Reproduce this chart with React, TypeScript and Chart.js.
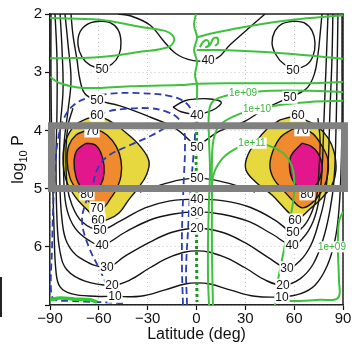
import React, { useEffect, useRef } from 'react';
import { Chart, registerables } from 'chart.js';

Chart.register(...registerables);

type Pt = [number, number];
type Lbl = [string, number, number];

// ---------- axes ----------
const latRange: Pt = [-90, 90];
const logPRange: Pt = [2, 7];
const latStep = 30;
const logPStep = 1;
const xTitle = 'Latitude (deg)';
const yTitleMain = 'log';
const yTitleSub = '10';
const yTitleEnd = ' P';

// ---------- highlighted band (grey box) ----------
const barLat: Pt = [-89.1, 90.9];
const barLogP: Pt = [3.92, 5.0];

// ---------- filled jet cores (60 / 70 / 80 contours) ----------
const yellowL: Pt[] = [[-66.6,3.79],[-59.3,3.77],[-51.9,3.86],[-43.3,4.04],[-34.7,4.27],[-29.2,4.53],[-31.0,4.78],[-35.9,4.99],[-42.1,5.21],[-47.6,5.42],[-53.7,5.52],[-60.5,5.56],[-66.6,5.38],[-74.0,5.16],[-80.2,4.85],[-82.0,4.47],[-80.2,4.16],[-74.6,3.91]];
const orangeL: Pt[] = [[-68.5,4.01],[-61.1,3.99],[-55.0,4.08],[-49.4,4.27],[-46.4,4.51],[-46.4,4.78],[-49.4,5.02],[-53.1,5.18],[-56.8,5.32],[-61.1,5.35],[-66.6,5.21],[-73.4,5.02],[-77.7,4.82],[-79.5,4.51],[-78.3,4.25],[-74.0,4.08]];
const magentaL: Pt[] = [[-67.9,4.22],[-62.3,4.25],[-58.7,4.39],[-56.8,4.61],[-57.4,4.84],[-60.5,4.99],[-65.4,5.04],[-70.9,4.97],[-74.0,4.80],[-75.2,4.54],[-73.4,4.34]];
const yellowR: Pt[] = [[51.3,3.82],[58.7,3.77],[66.6,3.82],[74.6,3.94],[80.8,4.13],[84.5,4.37],[85.7,4.68],[83.2,4.94],[77.1,5.16],[69.7,5.35],[61.7,5.52],[56.2,5.40],[46.4,5.11],[36.5,4.89],[30.4,4.68],[31.0,4.46],[36.5,4.20],[43.9,3.96]];
const orangeR: Pt[] = [[58.7,3.98],[64.8,3.96],[71.6,4.06],[77.1,4.27],[80.8,4.51],[80.2,4.82],[76.5,5.06],[70.9,5.25],[64.8,5.33],[59.3,5.21],[53.1,5.02],[47.6,4.84],[45.1,4.61],[47.0,4.35],[51.9,4.11]];
const magentaR: Pt[] = [[64.8,4.22],[70.3,4.27],[74.6,4.39],[77.1,4.59],[75.9,4.82],[71.6,4.99],[66.0,5.04],[60.5,4.92],[57.4,4.70],[58.0,4.44]];

// ---------- black contours ----------
const loop50L: Pt[] = [[-59.9,2.12],[-53.1,2.15],[-48.2,2.27],[-46.4,2.48],[-47.6,2.70],[-51.9,2.86],[-58.7,2.93],[-65.4,2.88],[-70.3,2.74],[-72.8,2.53],[-71.6,2.31],[-66.6,2.17],[-59.9,2.12]];
const loop50R: Pt[] = [[59.3,2.12],[66.0,2.15],[71.0,2.29],[72.8,2.50],[71.6,2.72],[67.3,2.88],[60.5,2.93],[53.7,2.86],[48.8,2.70],[46.4,2.50],[48.2,2.29],[52.5,2.17],[59.3,2.12]];
const top40: Pt[] = [[-48.2,2.0],[-40.8,2.03],[-28.6,2.19],[-20.6,2.45],[-13.2,2.67],[-5.2,2.78],[2.1,2.81],[12.6,2.76],[20.6,2.53],[31.0,2.27],[42.1,2.0]];
const lens40: Pt[] = [[-14.4,3.60],[-7.1,3.49],[0.3,3.46],[8.3,3.46],[15.1,3.51],[12.0,3.62],[5.2,3.70],[-2.1,3.72],[-9.5,3.68],[-14.4,3.60]];
const upper50: Pt[] = [[-77.1,2.0],[-75.9,2.36],[-73.4,2.79],[-71.6,3.13],[-68.5,3.37],[-61.1,3.48],[-47.0,3.58],[-28.6,3.77],[-13.2,3.96],[-4.0,4.18],[0.3,4.29],[5.2,4.18],[14.4,4.01],[28.6,3.86],[42.1,3.63],[57.4,3.43],[67.3,3.29],[72.2,3.05],[74.6,2.70],[75.9,2.36],[77.1,2.0]];
const mid50: Pt[] = [[-34.7,5.06],[-22.4,4.94],[-10.1,4.85],[0.3,4.82],[10.7,4.85],[23.6,4.94],[35.9,5.06]];
const lower50: Pt[] = [[-75.9,3.62],[-78.9,3.91],[-80.2,4.34],[-79.5,4.94],[-76.5,5.28],[-70.3,5.57],[-59.3,5.71],[-47.0,5.56],[-31.6,5.33],[-16.2,5.21],[0.3,5.18],[16.9,5.21],[32.9,5.32],[48.2,5.54],[59.3,5.75],[66.0,5.64],[70.9,5.40],[74.0,5.11],[75.2,4.68],[75.9,4.16],[74.6,3.79]];
const wall40: Pt[] = [[-80.8,2.0],[-78.9,2.53],[-77.1,3.13],[-78.9,3.65],[-81.4,4.25],[-81.4,4.94],[-79.5,5.37],[-74.6,5.68],[-66.6,5.88],[-58.0,5.97],[-43.9,5.75],[-28.6,5.54],[-15.0,5.44],[0.3,5.40],[15.7,5.44],[31.6,5.56],[46.4,5.78],[58.7,5.97],[65.4,5.85],[71.6,5.57],[75.2,5.20],[77.1,4.68],[78.3,3.82],[79.5,2.96],[80.8,2.0]];
const wall30: Pt[] = [[-83.8,2.0],[-82.6,2.62],[-82.0,3.31],[-83.8,3.99],[-84.0,4.85],[-82.6,5.54],[-79.5,5.93],[-71.6,6.19],[-55.0,6.35],[-43.9,6.16],[-28.6,5.92],[-15.0,5.75],[0.3,5.68],[15.7,5.75],[29.8,5.93],[43.9,6.18],[55.6,6.36],[63.6,6.24],[70.3,5.97],[75.2,5.57],[78.9,5.14],[80.8,4.59],[82.0,3.65],[83.2,2.79],[83.8,2.0]];
const wall20: Pt[] = [[-86.9,2.0],[-85.7,2.79],[-85.7,3.65],[-86.3,4.51],[-85.7,5.54],[-83.8,6.09],[-79.5,6.40],[-68.5,6.59],[-51.9,6.66],[-40.8,6.57],[-28.6,6.36],[-15.0,6.16],[0.3,6.07],[15.7,6.16],[29.8,6.36],[42.1,6.57],[53.1,6.66],[63.6,6.55],[71.6,6.30],[77.7,5.88],[82.0,5.37],[84.5,4.85],[85.7,3.99],[86.3,3.13],[86.9,2.0]];
const wall10: Pt[] = [[-89.4,2.0],[-89.4,3.13],[-88.8,4.34],[-87.5,5.71],[-86.3,6.43],[-83.8,6.69],[-76.5,6.81],[-62.3,6.85],[-50.1,6.85],[-34.7,6.85],[-19.3,6.74],[-7.1,6.64],[0.3,6.62],[8.3,6.64],[20.6,6.74],[35.9,6.85],[52.5,6.86],[63.6,6.81],[72.8,6.66],[80.2,6.33],[85.1,5.88],[87.5,5.37],[88.8,4.68],[89.4,3.82],[89.4,2.79],[89.4,2.0]];

// ---------- blue dashed contours ----------
const blueOuter: Pt[] = [[-5.8,7.0],[-6.4,6.40],[-5.2,5.71],[-4.0,5.11],[-2.1,4.51],[-0.9,3.99],[-2.1,3.74],[-6.4,3.53],[-16.2,3.41],[-34.7,3.36],[-53.1,3.37],[-66.6,3.44],[-75.2,3.56],[-81.4,3.79],[-85.1,4.16],[-86.9,4.68],[-88.1,5.37],[-88.8,6.06],[-89.4,6.74],[-87.5,6.90],[-77.7,6.93],[-59.3,6.95],[-42.7,6.97]];
const blueMid: Pt[] = [[-8.3,7.0],[-8.9,6.40],[-8.9,5.71],[-8.3,5.20],[-7.7,4.77],[-7.1,4.34],[-7.7,3.99],[-11.4,3.79],[-19.3,3.67],[-28.6,3.62],[-43.9,3.63],[-55.0,3.68],[-63.0,3.79],[-67.9,3.92]];
const blueJet: Pt[] = [[-19.3,3.96],[-28.6,4.10],[-42.1,4.27],[-54.4,4.44],[-61.1,4.68],[-64.2,4.99],[-68.5,5.28],[-70.3,5.57],[-66.6,5.97],[-59.3,6.40],[-51.3,6.86],[-47.0,6.98]];

// ---------- green contours ----------
const greenTongue: Pt[] = [[-90,2.07],[-59.3,2.10],[-34.7,2.22],[-19.3,2.29],[-15.0,2.36],[-13.8,2.46],[-17.5,2.57],[-34.7,2.65],[-59.3,2.74],[-83.8,2.76],[-90,2.76]];
const greenEq: Pt[] = [[-0.3,2.0],[-1.5,2.19],[0.3,2.41],[-1.5,2.62],[0.3,2.82],[-0.9,3.05],[0.3,3.22],[0.3,3.48]];
const greenTopR: Pt[] = [[0.3,2.40],[8.3,2.34],[20.6,2.27],[45.1,2.15],[69.7,2.07],[90,2.02]];
const greenWiggle: Pt[] = [[2.1,2.57],[4.0,2.48],[6.4,2.45],[7.7,2.52],[5.8,2.57],[8.3,2.53],[10.1,2.43],[12.6,2.41],[13.2,2.50],[11.4,2.55]];
const greenMidR: Pt[] = [[0.3,2.62],[14.4,2.62],[39.0,2.65],[63.6,2.70],[90,2.77]];
const greenBand: Pt[] = [[-90,3.08],[-83.8,3.19],[-69.7,3.27],[-40.8,3.24],[-10.1,3.22],[0.3,3.20],[20.6,3.19],[45.1,3.19],[69.7,3.19],[90,3.17]];
const green1e9: Pt[] = [[90,3.34],[69.7,3.32],[45.1,3.32],[28.6,3.36],[17.5,3.41],[10.1,3.50],[7.7,3.68],[7.7,4.16],[8.3,4.68],[7.7,5.20],[7.1,5.88],[7.1,6.57],[7.7,7.0]];
const green1e10: Pt[] = [[90,3.49],[69.7,3.51],[54.4,3.55],[37.2,3.63],[23.6,3.75],[14.4,3.91],[10.7,4.13],[9.5,4.51],[9.5,5.20],[9.5,6.06],[10.1,7.0]];
const green1e11: Pt[] = [[9.5,5.20],[10.1,4.80],[15.1,4.51],[23.6,4.32],[34.1,4.22],[45.1,4.27],[54.4,4.42],[59.3,4.68],[59.9,5.08],[58.0,5.45],[53.7,6.06],[50.1,6.57],[48.2,7.0]];
const greenWallR: Pt[] = [[90,5.40],[87.5,5.57],[86.9,6.06],[87.5,6.57],[86.9,6.88],[75.9,6.91],[63.6,6.93],[55.0,6.93]];
const greenFloorL: Pt[] = [[-90,6.91],[-83.8,6.88],[-74.6,6.90],[-65.4,6.91],[-61.1,6.95]];
const greenDotted: Pt[] = [[0.3,3.82],[-0.3,4.5],[0.3,5.2],[0.0,6.0],[0.3,6.95]];

// ---------- contour labels ----------
const blackLabels: Lbl[] = [
  ['50',-58.0,2.95],['50',-61.1,3.48],['60',-61.1,3.74],['70',-64.2,4.01],['80',-67.3,5.09],
  ['70',-61.1,5.33],['60',-60.5,5.54],['50',-59.3,5.71],['40',-58.0,5.97],['30',-55.0,6.35],['20',-51.9,6.66],['10',-50.1,6.85],
  ['40',7.1,2.79],['40',0.3,3.74],['50',0.3,4.29],['50',0.3,4.82],['40',0.3,5.18],['30',0.3,5.40],['20',0.3,5.68],
  ['50',59.3,2.96],['50',57.4,3.43],['60',62.3,3.74],['70',64.8,3.99],['80',67.9,5.09],
  ['60',60.5,5.54],['50',59.3,5.75],['40',58.7,5.97],['30',55.6,6.36],['20',53.1,6.66],['10',52.5,6.86],
];
const greenLabels: Lbl[] = [
  ['1e+09',28.6,3.36],['1e+10',37.2,3.63],['1e+11',34.1,4.22],['1e+09',83.2,6.0],
];

const FONT = '"Liberation Sans", Arial, Helvetica, sans-serif';
const BLACK = '#141414';
const BLUE = '#2a3db4';
const GREEN = '#3ec23e';

const closed = (p: Pt[]) => p.concat([p[0]]);
const ds = (pts: Pt[], o: any) => ({
  data: pts.map(([x, y]) => ({ x, y })),
  showLine: true,
  pointRadius: 0,
  pointHoverRadius: 0,
  tension: 0.4,
  fill: false,
  borderWidth: 1.4,
  borderColor: BLACK,
  order: 5,
  ...o,
});

export default function App() {
  const ref = useRef<HTMLCanvasElement | null>(null);

  useEffect(() => {
    if (!ref.current) return;
    const fills = [
      ds(closed(yellowL), { fill: 'shape', backgroundColor: '#e6d83e', order: 12 }),
      ds(closed(orangeL), { fill: 'shape', backgroundColor: '#f08a2e', order: 11 }),
      ds(closed(magentaL), { fill: 'shape', backgroundColor: '#e3178c', order: 10 }),
      ds(closed(yellowR), { fill: 'shape', backgroundColor: '#e6d83e', order: 12 }),
      ds(closed(orangeR), { fill: 'shape', backgroundColor: '#f08a2e', order: 11 }),
      ds(closed(magentaR), { fill: 'shape', backgroundColor: '#e3178c', order: 10 }),
    ];
    const blacks = [loop50L, loop50R, top40, lens40, upper50, mid50, lower50, wall40, wall30, wall20, wall10]
      .map((p) => ds(p, { order: 6 }));
    const blues = [blueOuter, blueMid, blueJet].map((p) =>
      ds(p, { borderColor: BLUE, borderWidth: 1.8, borderDash: [7, 4], order: 4 }));
    const greens = [greenTongue, greenEq, greenTopR, greenWiggle, greenMidR, greenBand, green1e9, green1e10, green1e11, greenWallR]
      .map((p) => ds(p, { borderColor: GREEN, borderWidth: 2, order: 3 }));
    const extras = [
      ds(greenFloorL, { borderColor: '#35c835', borderWidth: 3.5, order: 3 }),
      ds(greenDotted, { borderColor: '#1e961e', borderWidth: 3, borderDash: [3, 3], tension: 0, order: 3 }),
    ];
    const barPts: Pt[] = [
      [barLat[0], barLogP[0]], [barLat[1], barLogP[0]], [barLat[1], barLogP[1]], [barLat[0], barLogP[1]], [barLat[0], barLogP[0]],
    ];
    const bar = ds(barPts, {
      borderColor: '#808080', borderWidth: 7, tension: 0, clip: false, order: 0,
      borderJoinStyle: 'miter', borderCapStyle: 'square',
    });
    const datasets = [...fills, ...blacks, ...blues, ...greens, ...extras, bar];
    const barIndex = datasets.length - 1;

    const drawLabel = (ctx: CanvasRenderingContext2D, chart: any, l: Lbl, color: string, size: number) => {
      const x = chart.scales.x.getPixelForValue(l[1]);
      const y = chart.scales.y.getPixelForValue(l[2]);
      ctx.font = `${size}px ${FONT}`;
      const w = ctx.measureText(l[0]).width;
      ctx.fillStyle = '#ffffff';
      ctx.fillRect(x - w / 2 - 1, y - size / 2 - 0.5, w + 2, size + 1);
      ctx.fillStyle = color;
      ctx.textAlign = 'center';
      ctx.textBaseline = 'middle';
      ctx.fillText(l[0], x, y + 0.5);
    };

    const labelPlugin = {
      id: 'contourLabels',
      beforeDatasetDraw(chart: any, args: any) {
        if (args.index !== barIndex) return;
        const ctx = chart.ctx;
        ctx.save();
        blackLabels.forEach((l) => drawLabel(ctx, chart, l, '#111', 12));
        greenLabels.forEach((l) => drawLabel(ctx, chart, l, '#3cb43c', 10));
        ctx.restore();
      },
    };

    const framePlugin = {
      id: 'frame',
      beforeDatasetsDraw(chart: any) {
        const { ctx, chartArea: a } = chart;
        ctx.save();
        ctx.strokeStyle = '#222';
        ctx.lineWidth = 1.5;
        ctx.beginPath();
        ctx.moveTo(a.left, a.top);
        ctx.lineTo(a.right, a.top);
        ctx.lineTo(a.right, a.bottom);
        ctx.stroke();
        ctx.restore();
      },
      afterDraw(chart: any) {
        const { ctx, chartArea: a } = chart;
        ctx.save();
        ctx.fillStyle = '#111';
        ctx.font = `16px ${FONT}`;
        ctx.textAlign = 'center';
        ctx.textBaseline = 'alphabetic';
        ctx.fillText(xTitle, (a.left + a.right) / 2, 339);
        ctx.translate(23, (a.top + a.bottom) / 2);
        ctx.rotate(-Math.PI / 2);
        ctx.textAlign = 'left';
        const big = `16px ${FONT}`;
        const small = `11px ${FONT}`;
        ctx.font = big;
        const w1 = ctx.measureText(yTitleMain).width;
        const w3 = ctx.measureText(yTitleEnd).width;
        ctx.font = small;
        const w2 = ctx.measureText(yTitleSub).width;
        let x0 = -(w1 + w2 + w3) / 2;
        ctx.font = big;
        ctx.fillText(yTitleMain, x0, 0);
        x0 += w1;
        ctx.font = small;
        ctx.fillText(yTitleSub, x0, 4);
        x0 += w2;
        ctx.font = big;
        ctx.fillText(yTitleEnd, x0, 0);
        ctx.restore();
      },
    };

    const chart = new Chart(ref.current, {
      type: 'line',
      data: { datasets },
      options: {
        animation: false,
        responsive: false,
        events: [],
        layout: { padding: { top: 14, right: 13, left: 0, bottom: 0 } },
        plugins: { legend: { display: false }, tooltip: { enabled: false } },
        scales: {
          x: {
            type: 'linear',
            min: latRange[0],
            max: latRange[1],
            ticks: {
              stepSize: latStep,
              autoSkip: false,
              maxRotation: 0,
              padding: 0,
              color: '#111',
              font: { size: 15, family: FONT },
              callback: (v: any) => (Number(v) < 0 ? '\u2212' + Math.abs(Number(v)) : String(v)),
            },
            grid: { color: '#c4c4c4', lineWidth: 1, tickColor: '#111', tickLength: 5, tickWidth: 1.2 },
            border: { display: true, color: '#222', width: 1.5, dash: [1, 3] },
            afterFit: (s: any) => { s.height = 41; },
          },
          y: {
            type: 'linear',
            min: logPRange[0],
            max: logPRange[1],
            reverse: true,
            ticks: {
              stepSize: logPStep,
              autoSkip: false,
              padding: 3,
              color: '#111',
              font: { size: 15, family: FONT },
              callback: (v: any) => (Number(v) === logPRange[1] ? '' : String(v)),
            },
            grid: { color: '#c4c4c4', lineWidth: 1, tickColor: '#111', tickLength: 5, tickWidth: 1.2 },
            border: { display: true, color: '#222', width: 1.5, dash: [1, 3] },
            afterFit: (s: any) => { s.width = 50; },
          },
        },
      } as any,
      plugins: [labelPlugin, framePlugin],
    } as any);
    return () => chart.destroy();
  }, []);

  return (
    <div style={{ position: 'fixed', left: 0, top: 0, width: 356, height: 346, background: '#fff' }}>
      <canvas ref={ref} width={356} height={346} style={{ width: 356, height: 346, display: 'block' }} />
      <div style={{ position: 'absolute', left: 0, top: 277, width: 2, height: 40, background: '#222' }} />
    </div>
  );
}
